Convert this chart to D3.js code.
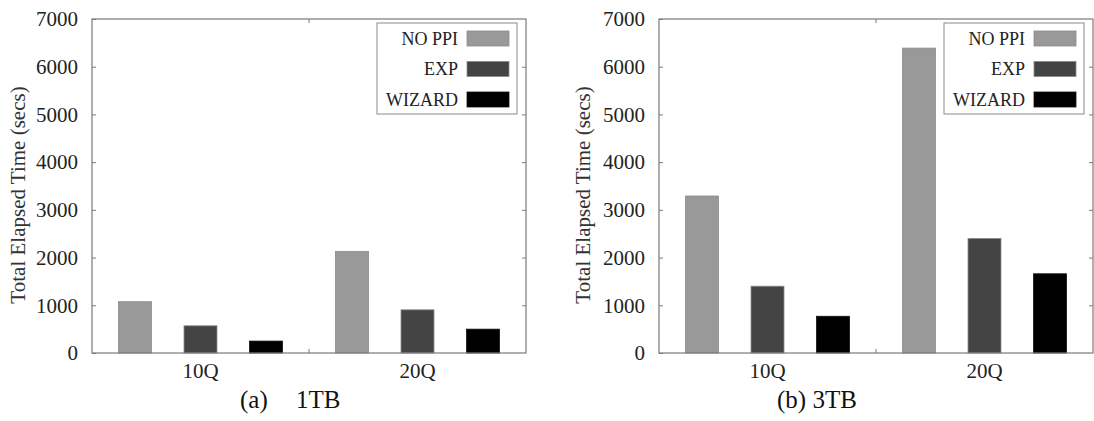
<!DOCTYPE html>
<html>
<head>
<meta charset="utf-8">
<script src="https://cdn.jsdelivr.net/npm/d3@7"></script>
<style>
  html, body { margin: 0; padding: 0; background: #fff; }
  svg { display: block; }
  svg text { font-family: "Liberation Serif", Tinos, "Times New Roman", Times, "DejaVu Serif", serif; }
</style>
</head>
<body>
<svg id="chart" width="1094" height="421"></svg>
<script>
// ── Data ─────────────────────────────────────────────────────────────────────

const groups      = ["10Q", "20Q"];
const seriesNames = ["NO PPI", "EXP", "WIZARD"];
const yTicks      = [0, 1000, 2000, 3000, 4000, 5000, 6000, 7000];

// 1TB run
const noPpi1TB  = [1075, 2130];
const exp1TB    = [570, 905];
const wizard1TB = [250, 500];

// 3TB run
const noPpi3TB  = [3290, 6390];
const exp3TB    = [1400, 2400];
const wizard3TB = [770, 1660];

const fills = { "NO PPI": "#999999", "EXP": "#444444", "WIZARD": "#000000" };

// ── Panel ────────────────────────────────────────────────────────────────────

function drawPanel(svg, p) {
  const W = 434, top = 19, bottom = 353;
  const frame = "#7a7a7a";
  const g = svg.append("g").attr("transform", `translate(${p.left},0)`);

  const x0 = d3.scaleBand().domain(groups).range([0, W]);
  const bw = x0.bandwidth();
  const x1 = d3.scalePoint().domain(seriesNames).range([-0.302 * bw, 0.302 * bw]);
  const barW = 0.152 * bw;
  const y = d3.scaleLinear().domain([0, 7000]).range([bottom, top]);

  // bars
  const rows = groups.map((grp, i) => seriesNames.map((s, j) => ({ grp, s, v: p.values[j][i] })));
  g.selectAll("g.grp").data(rows).join("g")
    .attr("class", "grp")
    .selectAll("rect").data(d => d).join("rect")
      .attr("x", d => x0(d.grp) + bw / 2 + x1(d.s) - barW / 2)
      .attr("y", d => y(d.v))
      .attr("width", barW)
      .attr("height", d => bottom - y(d.v))
      .attr("fill", d => fills[d.s])
      .attr("stroke", d => d.s === "WIZARD" ? "#111" : "#8a8a8a")
      .attr("stroke-width", 0.8);

  // left axis (ticks inward)
  const yAxis = g.append("g")
    .call(d3.axisLeft(y).tickValues(yTicks).tickSize(-4).tickPadding(14).tickFormat(d3.format("d")));
  yAxis.attr("font-family", null);
  yAxis.select(".domain").remove();
  yAxis.selectAll("line").attr("stroke", frame);
  yAxis.selectAll("text").attr("font-size", 21).attr("fill", "#222");

  // right mirror ticks
  const yAxisR = g.append("g").attr("transform", `translate(${W},0)`)
    .call(d3.axisRight(y).tickValues(yTicks.slice(1, -1)).tickSize(-4).tickFormat(""));
  yAxisR.select(".domain").remove();
  yAxisR.selectAll("line").attr("stroke", frame);

  // bottom axis: labels at group centres, one inward tick between groups
  const xAxis = g.append("g").attr("transform", `translate(0,${bottom})`)
    .call(d3.axisBottom(x0).tickSize(0).tickPadding(10));
  xAxis.attr("font-family", null);
  xAxis.select(".domain").remove();
  xAxis.selectAll("text").attr("font-size", 21).attr("fill", "#222");
  [bottom, top].forEach((yy, k) => {
    g.append("line")
      .attr("x1", W / 2).attr("x2", W / 2)
      .attr("y1", yy).attr("y2", k === 0 ? yy - 4 : yy + 4)
      .attr("stroke", frame);
  });

  // frame
  g.append("rect")
    .attr("x", 0).attr("y", top).attr("width", W).attr("height", bottom - top)
    .attr("fill", "none").attr("stroke", frame).attr("stroke-width", 1.2);

  // y title
  g.append("text")
    .attr("transform", `translate(${p.titleX},195) rotate(-90)`)
    .attr("text-anchor", "middle")
    .attr("font-size", 21).attr("fill", "#333")
    .text("Total Elapsed Time (secs)");

  // legend
  const lgX = W - 9 - 140;
  const lg = g.append("g").attr("transform", `translate(${lgX},23)`);
  lg.append("rect").attr("width", 140).attr("height", 91)
    .attr("fill", "#fff").attr("stroke", "#8a8a8a").attr("stroke-width", 1);
  seriesNames.forEach((s, i) => {
    const cy = 15.5 + i * 30.5;
    lg.append("text")
      .attr("x", 81).attr("y", cy).attr("dy", "0.35em")
      .attr("text-anchor", "end").attr("font-size", 18).attr("fill", "#222")
      .text(s);
    lg.append("rect")
      .attr("x", 90).attr("y", cy - 7.5).attr("width", 42).attr("height", 15)
      .attr("fill", fills[s]).attr("stroke", s === "WIZARD" ? "#111" : "#8a8a8a").attr("stroke-width", 0.8);
  });

  // caption
  const cap = svg.append("text")
    .attr("x", p.capX).attr("y", 408)
    .attr("font-size", 25).attr("fill", "#111")
    .style("white-space", "pre");
  cap.append("tspan").text(p.capA);
  cap.append("tspan").attr("dx", p.capGap).text(p.capB);
}

// ── Main ─────────────────────────────────────────────────────────────────────

const svg = d3.select("#chart");

drawPanel(svg, {
  left: 92, titleX: -67,
  values: [noPpi1TB, exp1TB, wizard1TB],
  capX: 240, capA: "(a) ", capB: "1TB", capGap: 22
});

drawPanel(svg, {
  left: 659, titleX: -69,
  values: [noPpi3TB, exp3TB, wizard3TB],
  capX: 777, capA: "(b) ", capB: "3TB", capGap: 0
});
</script>
</body>
</html>
